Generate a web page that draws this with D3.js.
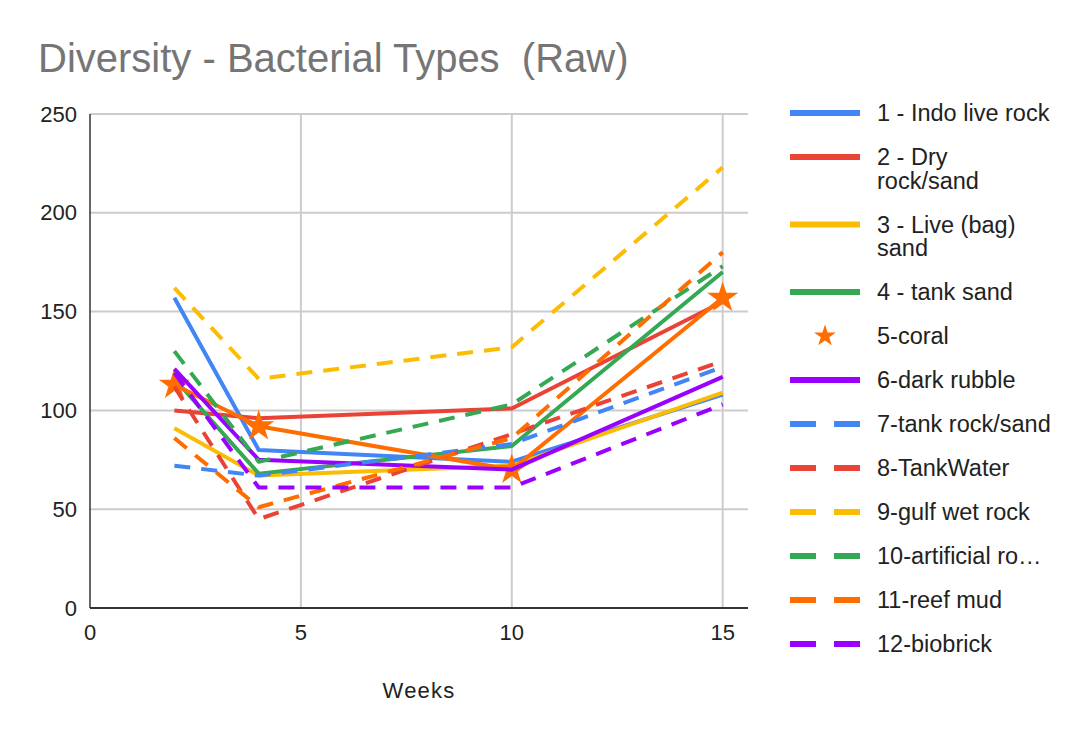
<!DOCTYPE html>
<html>
<head>
<meta charset="utf-8">
<script src="https://cdn.jsdelivr.net/npm/d3@7"></script>
<style>
  html, body { margin: 0; padding: 0; background: #fff; }
  svg { display: block; }
  text { font-family: "Liberation Sans", Arial, sans-serif; }
</style>
</head>
<body>
<svg id="chart" width="1090" height="738"></svg>
<script>
// ---- Data ----
const weeks = [2, 4, 10, 15];
const xTicks = [0, 5, 10, 15];
const yTicks = [0, 50, 100, 150, 200, 250];

const s1_indoLiveRock   = [157, 80, 74, 108];
const s2_dryRockSand    = [100, 96, 101, 155];
const s3_liveBagSand    = [91, 67, 72, 109];
const s4_tankSand       = [116, 68, 82, 170];
const s5_coral          = [113, 92, 70, 157];
const s6_darkRubble     = [121, 75, 70, 117];
const s7_tankRockSand   = [72, 67, 83, 122];
const s8_tankWater      = [112, 45, 88, 125];
const s9_gulfWetRock    = [162, 116, 132, 223];
const s10_artificialRock= [130, 74, 103, 173];
const s11_reefMud       = [86, 51, 86, 180];
const s12_biobrick      = [119, 61, 61, 103];

const seriesNames = [
  "1 - Indo live rock", "2 - Dry\nrock/sand", "3 - Live (bag)\nsand", "4 - tank sand",
  "5-coral", "6-dark rubble", "7-tank rock/sand", "8-TankWater",
  "9-gulf wet rock", "10-artificial ro\u2026", "11-reef mud", "12-biobrick"
];
const seriesColors = ["#4285F4", "#EA4335", "#FBBC04", "#34A853", "#FF6D01", "#9900FF",
                      "#4285F4", "#EA4335", "#FBBC04", "#34A853", "#FF6D01", "#9900FF"];
const seriesDashed = [false, false, false, false, false, false, true, true, true, true, true, true];
const seriesValues = [s1_indoLiveRock, s2_dryRockSand, s3_liveBagSand, s4_tankSand, s5_coral,
  s6_darkRubble, s7_tankRockSand, s8_tankWater, s9_gulfWetRock, s10_artificialRock, s11_reefMud, s12_biobrick];
const starSeries = 4;

// ---- Chart ----
const svg = d3.select("#chart");
const pLeft = 90, pRight = 748, pTop = 114, pBottom = 608;
const x = d3.scaleLinear().domain([0, 15.6]).range([pLeft, pRight]);
const y = d3.scaleLinear().domain([0, 250]).range([pBottom, pTop]);

svg.append("text")
  .attr("x", 38).attr("y", 72)
  .attr("font-size", 40).attr("fill", "#757575")
  .style("white-space", "pre")
  .text("Diversity - Bacterial Types  (Raw)");

// gridlines
svg.append("g").selectAll("line").data(yTicks.filter(d => d > 0)).join("line")
  .attr("x1", pLeft).attr("x2", pRight)
  .attr("y1", d => y(d)).attr("y2", d => y(d))
  .attr("stroke", "#cccccc").attr("stroke-width", 2);
svg.append("g").selectAll("line").data(xTicks.filter(d => d > 0)).join("line")
  .attr("x1", d => x(d)).attr("x2", d => x(d))
  .attr("y1", pTop).attr("y2", pBottom)
  .attr("stroke", "#cccccc").attr("stroke-width", 2);

// axes lines
svg.append("line").attr("x1", pLeft).attr("x2", pLeft).attr("y1", pTop).attr("y2", pBottom)
  .attr("stroke", "#333").attr("stroke-width", 1.5);
svg.append("line").attr("x1", pLeft).attr("x2", pRight).attr("y1", pBottom).attr("y2", pBottom)
  .attr("stroke", "#333").attr("stroke-width", 2);

// tick labels
svg.append("g").selectAll("text").data(yTicks).join("text")
  .attr("x", 77).attr("y", d => y(d) + 7.5)
  .attr("text-anchor", "end").attr("font-size", 22).attr("fill", "#222")
  .text(d => d);
svg.append("g").selectAll("text").data(xTicks).join("text")
  .attr("x", d => x(d)).attr("y", 640)
  .attr("text-anchor", "middle").attr("font-size", 22).attr("fill", "#222")
  .text(d => d);

svg.append("text").attr("x", (pLeft + pRight) / 2).attr("y", 698)
  .attr("text-anchor", "middle").attr("font-size", 22).attr("fill", "#222")
  .attr("letter-spacing", 1.2)
  .text("Weeks");

// lines
const line = d3.line().x((d, i) => x(weeks[i])).y(d => y(d));
seriesValues.forEach((vals, k) => {
  svg.append("path")
    .attr("d", line(vals))
    .attr("fill", "none")
    .attr("stroke", seriesColors[k])
    .attr("stroke-width", 4)
    .attr("stroke-linejoin", "round")
    .attr("stroke-dasharray", seriesDashed[k] ? "16,11" : null);
  if (k === starSeries) {
    svg.append("g").selectAll("path").data(vals).join("path")
      .attr("transform", (d, i) => `translate(${x(weeks[i])},${y(d)})`)
      .attr("d", d3.symbol(d3.symbolStar, 300))
      .attr("fill", seriesColors[k]);
  }
});

// legend
const lg = svg.append("g");
let ly = 113;
seriesNames.forEach((name, k) => {
  const lines = name.split("\n");
  if (k === starSeries) {
    lg.append("path").attr("transform", `translate(825,${ly})`)
      .attr("d", d3.symbol(d3.symbolStar, 150)).attr("fill", seriesColors[k]);
  } else {
    lg.append("line").attr("x1", 790).attr("x2", 860).attr("y1", ly).attr("y2", ly)
      .attr("stroke", seriesColors[k]).attr("stroke-width", 6)
      .attr("stroke-dasharray", seriesDashed[k] ? "26,18" : null);
  }
  lines.forEach((t, j) => {
    lg.append("text").attr("x", 877).attr("y", ly + 8 + j * 23.5)
      .attr("font-size", 23.5).attr("fill", "#222").text(t);
  });
  ly += 44 + 23.5 * (lines.length - 1);
});
</script>
</body>
</html>
